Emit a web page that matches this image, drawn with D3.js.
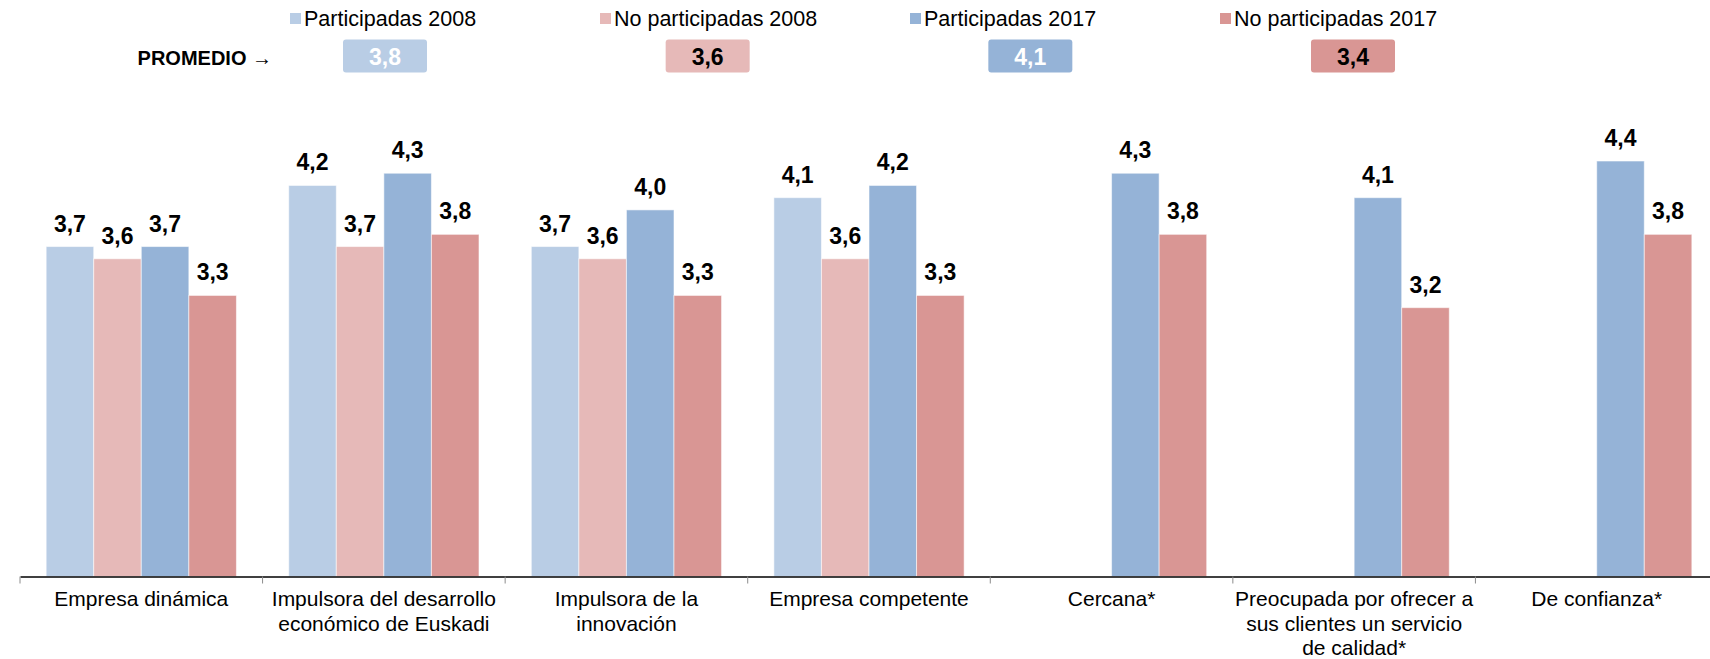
<!DOCTYPE html>
<html>
<head>
<meta charset="utf-8">
<script src="https://cdn.jsdelivr.net/npm/d3@7"></script>
<style>
  html, body { margin: 0; padding: 0; background: #fff; }
  svg { display: block; font-family: "Liberation Sans", Arial, sans-serif; }
</style>
</head>
<body>
<svg id="chart" width="1710" height="659"></svg>
<script>
// ---- data ----
const categories = [
  ["Empresa dinámica"],
  ["Impulsora del desarrollo", "económico de Euskadi"],
  ["Impulsora de la", "innovación"],
  ["Empresa competente"],
  ["Cercana*"],
  ["Preocupada por ofrecer a", "sus clientes un servicio", "de calidad*"],
  ["De confianza*"]
];
const seriesNames = ["Participadas 2008", "No participadas 2008", "Participadas 2017", "No participadas 2017"];
const part2008   = [3.7, 4.2, 3.7, 4.1, null, null, null];
const noPart2008 = [3.6, 3.7, 3.6, 3.6, null, null, null];
const part2017   = [3.7, 4.3, 4.0, 4.2, 4.3, 4.1, 4.4];
const noPart2017 = [3.3, 3.8, 3.3, 3.3, 3.8, 3.2, 3.8];
const promedio   = [3.8, 3.6, 4.1, 3.4];
const promedioLabel = "PROMEDIO →";
const seriesColors = ["#B9CDE5", "#E6B9B8", "#95B3D7", "#D99694"];
const promedioTextColors = ["#ffffff", "#000000", "#ffffff", "#000000"];

const seriesValues = [part2008, noPart2008, part2017, noPart2017];
const fmt = v => v.toFixed(1).replace(".", ",");

const svg = d3.select("#chart");

// ---- scales ----
const catKeys = categories.map((c, i) => i);
const x = d3.scaleBand().domain(catKeys).range([20, 1718]).paddingInner(0).paddingOuter(0);
const xs = d3.scaleBand().domain(seriesNames).range([0, x.bandwidth()]).paddingInner(0).paddingOuter(0.55);
const y = d3.scaleLinear().domain([1, 5]).range([576.5, 87.7]);
const color = d3.scaleOrdinal().domain(seriesNames).range(seriesColors);

// ---- bars ----
const barData = [];
catKeys.forEach(ci => {
  seriesNames.forEach((s, si) => {
    const v = seriesValues[si][ci];
    if (v != null) barData.push({ci, s, v});
  });
});

const gBars = svg.append("g");
gBars.selectAll("rect").data(barData).enter().append("rect")
  .attr("x", d => x(d.ci) + xs(d.s))
  .attr("width", xs.bandwidth())
  .attr("y", d => y(d.v))
  .attr("height", d => y.range()[0] - y(d.v))
  .attr("fill", d => color(d.s))
  .attr("stroke", "rgba(255,255,255,0.55)")
  .attr("stroke-width", 1);

gBars.selectAll("text").data(barData).enter().append("text")
  .attr("x", d => x(d.ci) + xs(d.s) + xs.bandwidth() / 2)
  .attr("y", d => y(d.v) - 15)
  .attr("text-anchor", "middle")
  .attr("font-size", 23)
  .attr("font-weight", "bold")
  .attr("fill", "#000")
  .text(d => fmt(d.v));

// ---- axis ----
const axisG = svg.append("g").attr("transform", `translate(0,${y.range()[0]})`)
  .call(d3.axisBottom(x).tickSize(0).tickFormat(""));
axisG.select(".domain").attr("stroke", "#000").attr("stroke-width", 1.5);

const edges = catKeys.map(ci => x(ci)).concat([x(catKeys[catKeys.length - 1]) + x.bandwidth()]);
axisG.selectAll("line.edge").data(edges).enter().append("line")
  .attr("class", "edge")
  .attr("x1", d => d).attr("x2", d => d)
  .attr("y1", 0).attr("y2", 7)
  .attr("stroke", "#8c8c8c").attr("stroke-width", 1);

const labelsG = svg.append("g");
categories.forEach((lines, ci) => {
  const t = labelsG.append("text")
    .attr("x", x(ci) + x.bandwidth() / 2)
    .attr("y", 606)
    .attr("text-anchor", "middle")
    .attr("font-size", 21)
    .attr("fill", "#000");
  lines.forEach((ln, li) => {
    t.append("tspan").attr("x", x(ci) + x.bandwidth() / 2).attr("dy", li === 0 ? 0 : 24.5).text(ln);
  });
});

// ---- legend ----
const legX = d3.scalePoint().domain(seriesNames).range([290, 1220]);
const legG = svg.append("g");
seriesNames.forEach(s => {
  legG.append("rect")
    .attr("x", legX(s)).attr("y", 13)
    .attr("width", 11).attr("height", 11)
    .attr("fill", color(s));
  legG.append("text")
    .attr("x", legX(s) + 14).attr("y", 26)
    .attr("font-size", 21.5).attr("fill", "#000")
    .text(s);
});

// ---- promedio boxes ----
const boxX = d3.scalePoint().domain(seriesNames).range([385, 1353]);
const promG = svg.append("g");
promG.append("text")
  .attr("x", 272).attr("y", 65)
  .attr("text-anchor", "end")
  .attr("font-size", 20)
  .attr("font-weight", "bold")
  .attr("fill", "#000")
  .text(promedioLabel);
seriesNames.forEach((s, i) => {
  promG.append("rect")
    .attr("x", boxX(s) - 42).attr("y", 39.5)
    .attr("width", 84).attr("height", 33)
    .attr("rx", 3).attr("ry", 3)
    .attr("fill", color(s));
  promG.append("text")
    .attr("x", boxX(s)).attr("y", 64.5)
    .attr("text-anchor", "middle")
    .attr("font-size", 23)
    .attr("font-weight", "bold")
    .attr("fill", promedioTextColors[i])
    .text(fmt(promedio[i]));
});
</script>
</body>
</html>
